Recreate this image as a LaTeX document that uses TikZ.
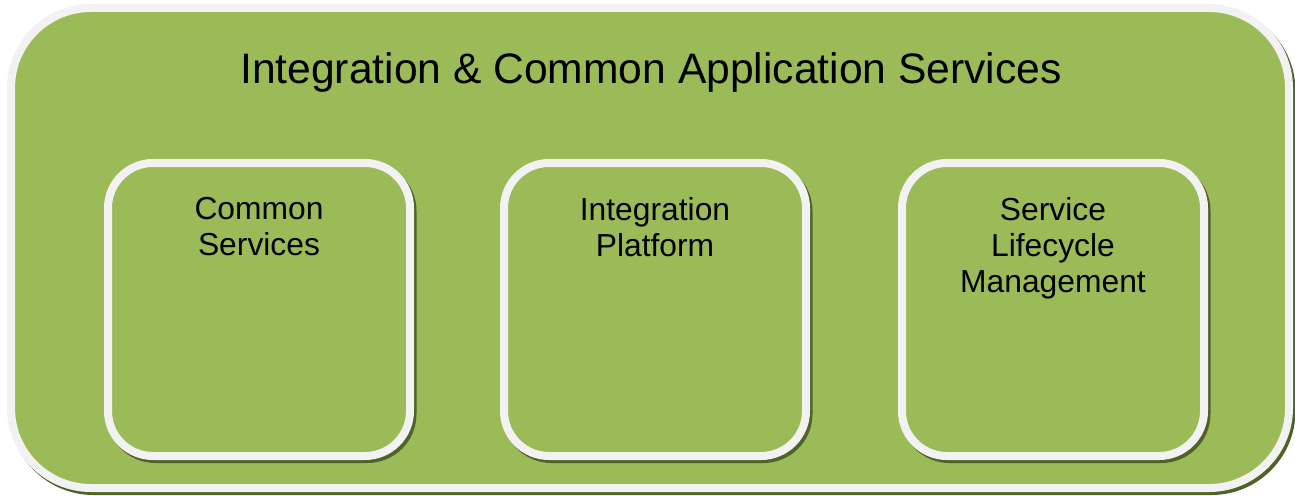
\documentclass[tikz,border=0pt]{standalone}
\usepackage{fontspec}
\setmainfont{Liberation Sans}
\usepackage{tikz}
\definecolor{leaf}{HTML}{9BBB59}
\definecolor{rim}{HTML}{F2F2F2}
\definecolor{leafshadow}{HTML}{4F6228}

\begin{document}
\begin{tikzpicture}[x=1pt, y=-1pt]
		\tikzstyle{panel}=[rectangle, draw=rim, fill=leaf, line width=8pt, outer sep=0pt, inner sep=0pt]
		\tikzstyle{panelshadow}=[rectangle, draw=leafshadow, line width=8pt, outer sep=0pt, inner sep=0pt]
		\tikzstyle{outerbox}=[minimum width=1278pt, minimum height=480pt, rounded corners=80pt]
		\tikzstyle{servicebox}=[minimum width=302pt, minimum height=293pt, rounded corners=45pt]
		\tikzstyle{boxtext}=[anchor=north, align=center, inner sep=0pt, font=\fontsize{31.8}{36}\selectfont]
		\useasboundingbox (0, 0) rectangle (1295, 495);
		% outer panel
		\node[panelshadow, outerbox] (shadow) at (652.5, 251) {};
		\node[panel, outerbox] (outer) at (650, 248) {};
		\node[anchor=base, inner sep=0pt, font=\fontsize{42.6}{50}\selectfont] (title) at (651, 83) {Integration \& Common Application Services};
		% service boxes
		\node[panelshadow, servicebox] (s1) at (261.5, 312.5) {};
		\node[panelshadow, servicebox] (s2) at (657.5, 312.5) {};
		\node[panelshadow, servicebox] (s3) at (1055.5, 312.5) {};
		\node[panel, servicebox] (common) at (259, 309.5) {};
		\node[panel, servicebox] (platform) at (655, 309.5) {};
		\node[panel, servicebox] (lifecycle) at (1053, 309.5) {};
		\node[boxtext] (commontext) at ([yshift=-34pt]common.north) {Common\\Services};
		\node[boxtext] (platformtext) at ([yshift=-34pt]platform.north) {Integration\\Platform};
		\node[boxtext] (lifecycletext) at ([yshift=-34pt]lifecycle.north) {Service\\Lifecycle\\Management};
	\end{tikzpicture}
\end{document}
